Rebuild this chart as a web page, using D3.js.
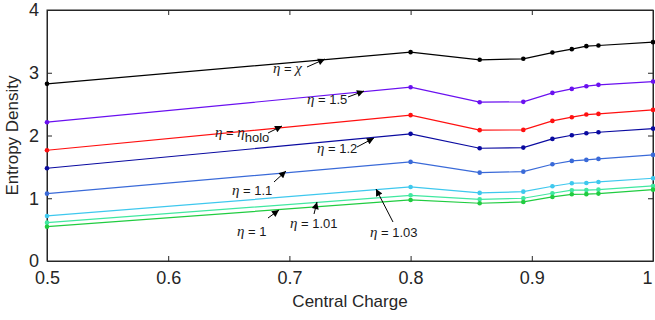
<!DOCTYPE html>
<html><head><meta charset="utf-8">
<script src="https://cdn.jsdelivr.net/npm/d3@7"></script>
<style>body{margin:0;background:#fff}svg{display:block}</style>
</head><body>
<script>
const centralCharge = [0.5, 0.8, 0.857, 0.893, 0.917, 0.933, 0.945, 0.955, 1.0];
const etaChi   = [2.823, 3.328, 3.206, 3.222, 3.322, 3.376, 3.424, 3.434, 3.488];
const eta15    = [2.212, 2.770, 2.531, 2.536, 2.679, 2.743, 2.786, 2.807, 2.860];
const etaHolo  = [1.765, 2.324, 2.085, 2.089, 2.233, 2.292, 2.334, 2.344, 2.408];
const eta12    = [1.478, 2.026, 1.797, 1.807, 1.946, 2.004, 2.036, 2.052, 2.110];
const eta11    = [1.073, 1.579, 1.408, 1.424, 1.542, 1.595, 1.611, 1.627, 1.691];
const eta103   = [0.718, 1.180, 1.085, 1.105, 1.191, 1.239, 1.244, 1.260, 1.319];
const eta101   = [0.611, 1.047, 0.983, 1.000, 1.080, 1.128, 1.130, 1.138, 1.196];
const eta1     = [0.547, 0.973, 0.920, 0.941, 1.021, 1.063, 1.065, 1.074, 1.137];
const seriesNames = ["χ", "1.5", "holo", "1.2", "1.1", "1.03", "1.01", "1"];
const seriesColors = ["#000000", "#6a10f0", "#ff1010", "#0a0aa0", "#3a6ad8", "#3ec8ee", "#40e8a0", "#20cc40"];
const xTicks = [0.5, 0.6, 0.7, 0.8, 0.9, 1];
const yTicks = [0, 1, 2, 3, 4];

const seriesValues = [etaChi, eta15, etaHolo, eta12, eta11, eta103, eta101, eta1];

const W = 655, H = 320;
const m = {left: 47, right: 2, top: 10, bottom: 59};
const svg = d3.select("body").append("svg").attr("width", W).attr("height", H)
  .style("font-family", "'Liberation Sans', Arial, sans-serif");

const x = d3.scaleLinear().domain([0.5, 1]).range([m.left, W - m.right]);
const y = d3.scaleLinear().domain([0, 4]).range([H - m.bottom, m.top]);

const axisColor = "#262626";
// box
svg.append("rect").attr("x", x(0.5)).attr("y", y(4)).attr("width", x(1) - x(0.5)).attr("height", y(0) - y(4))
  .attr("fill", "none").attr("stroke", axisColor).attr("stroke-width", 1);

// axes
const fmtX = d => d === 1 ? "1" : d3.format(".1f")(d);
const xAxis = svg.append("g").attr("transform", `translate(0,${y(0)})`)
  .call(d3.axisBottom(x).tickValues(xTicks).tickFormat(fmtX).tickSizeInner(-5).tickSizeOuter(0).tickPadding(10));
const xAxisTop = svg.append("g").attr("transform", `translate(0,${y(4)})`)
  .call(d3.axisTop(x).tickValues(xTicks).tickFormat("").tickSizeInner(-5).tickSizeOuter(0));
const yAxis = svg.append("g").attr("transform", `translate(${x(0.5)},0)`)
  .call(d3.axisLeft(y).tickValues(yTicks).tickFormat(d3.format("d")).tickSizeInner(-5).tickSizeOuter(0).tickPadding(8));
const yAxisR = svg.append("g").attr("transform", `translate(${x(1)},0)`)
  .call(d3.axisRight(y).tickValues(yTicks).tickFormat("").tickSizeInner(-5).tickSizeOuter(0));
[xAxis, xAxisTop, yAxis, yAxisR].forEach(g => {
  g.select(".domain").attr("stroke", axisColor);
  g.selectAll(".tick line").attr("stroke", axisColor);
  g.selectAll(".tick text").attr("fill", axisColor).attr("font-size", 18)
    .attr("font-family", "'Liberation Sans', Arial, sans-serif");
});
// keep last x label inside the picture
xAxis.selectAll(".tick text").filter(d => d === 1).attr("text-anchor", "end").attr("dx", -1);

svg.append("text").attr("x", (x(0.5) + x(1)) / 2).attr("y", 307).attr("text-anchor", "middle")
  .attr("font-size", 17).attr("fill", axisColor).text("Central Charge");
svg.append("text").attr("transform", `translate(18,${(y(0) + y(4)) / 2}) rotate(-90)`)
  .attr("text-anchor", "middle").attr("font-size", 17).attr("fill", axisColor).text("Entropy Density");

// lines
const line = d3.line().x((d, i) => x(centralCharge[i])).y(d => y(d));
seriesValues.forEach((vals, k) => {
  svg.append("path").datum(vals).attr("d", line).attr("fill", "none")
    .attr("stroke", seriesColors[k]).attr("stroke-width", 1.2);
  svg.append("g").selectAll("circle").data(vals).join("circle")
    .attr("cx", (d, i) => x(centralCharge[i])).attr("cy", d => y(d)).attr("r", 2.3)
    .attr("fill", seriesColors[k]);
});

// annotations
const defs = svg.append("defs");
defs.append("marker").attr("id", "ah").attr("viewBox", "0 0 10 10").attr("refX", 10).attr("refY", 5)
  .attr("markerWidth", 9).attr("markerHeight", 7).attr("markerUnits", "userSpaceOnUse").attr("orient", "auto")
  .append("path").attr("d", "M0,0 L10,5 L0,10 z").attr("fill", "#000");

const annotations = [
  {label: "χ", tx: 273, ty: 73, ax: [307, 67], ah: [325, 59]},
  {label: "1.5", tx: 307, ty: 104, ax: [348, 97], ah: [364, 91]},
  {label: "holo", tx: 215, ty: 137, ax: [268, 133], ah: [282, 126]},
  {label: "1.2", tx: 317, ty: 153, ax: [357, 147], ah: [374, 138]},
  {label: "1.1", tx: 232, ty: 195, ax: [274, 182], ah: [286, 171]},
  {label: "1", tx: 237, ty: 236, ax: [268, 218], ah: [279, 210]},
  {label: "1.01", tx: 290, ty: 228, ax: [314, 214], ah: [317, 202]},
  {label: "1.03", tx: 370, ty: 237, ax: [393, 222], ah: [376, 189]}
];
annotations.forEach(a => {
  const t = svg.append("text").attr("x", a.tx).attr("y", a.ty).attr("font-size", 13).attr("fill", "#1a1a1a");
  t.append("tspan").attr("font-family", "'Liberation Serif', 'Times New Roman', serif").attr("font-style", "italic")
    .attr("font-size", 15).text("η");
  if (a.label === "χ") {
    t.append("tspan").text(" = ");
    t.append("tspan").attr("font-family", "'Liberation Serif', serif").attr("font-style", "italic").attr("font-size", 15).text("χ");
  } else if (a.label === "holo") {
    t.append("tspan").text(" = ");
    t.append("tspan").attr("font-family", "'Liberation Serif', serif").attr("font-style", "italic").attr("font-size", 15).text("η");
    t.append("tspan").attr("dy", 5).text("holo");
  } else {
    t.append("tspan").text(" = " + a.label);
  }
  svg.append("line").attr("x1", a.ax[0]).attr("y1", a.ax[1]).attr("x2", a.ah[0]).attr("y2", a.ah[1])
    .attr("stroke", "#000").attr("stroke-width", 1).attr("marker-end", "url(#ah)");
});
</script>
</body></html>
